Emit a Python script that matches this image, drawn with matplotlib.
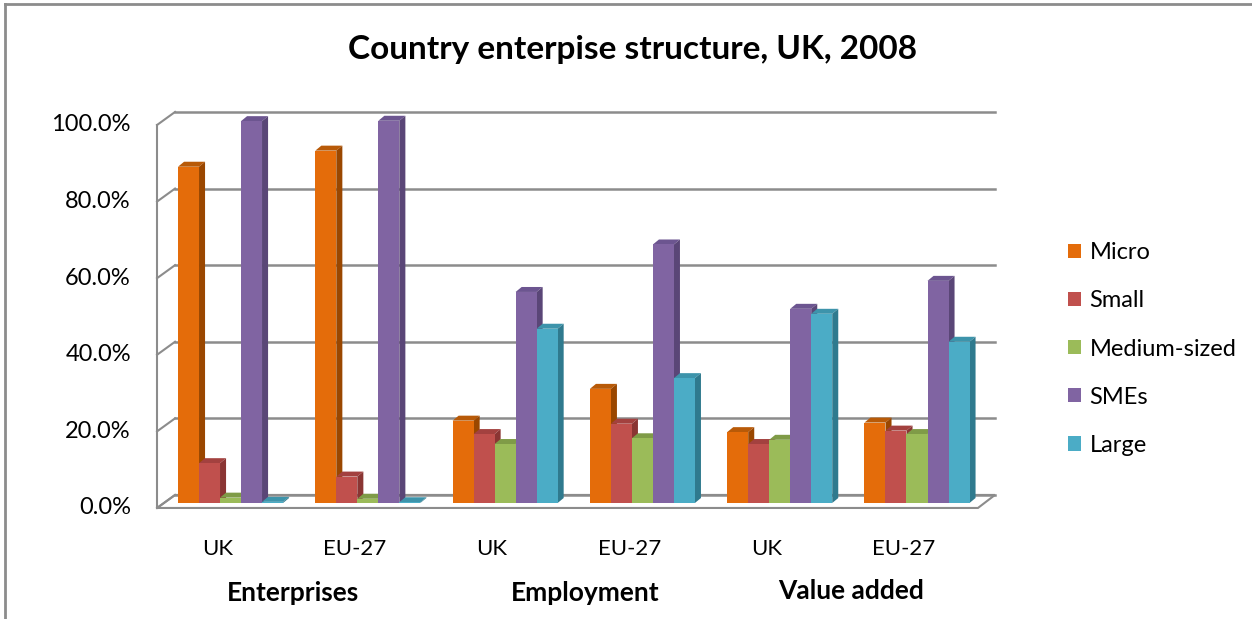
import numpy as np
import matplotlib.pyplot as plt
from matplotlib.patches import Polygon, Patch
from matplotlib.lines import Line2D

plt.rcParams['font.family'] = ['Lato', 'DejaVu Sans']

# data (percent)
series = ['Micro', 'Small', 'Medium-sized', 'SMEs', 'Large']
countries = ['UK', 'EU-27', 'UK', 'EU-27', 'UK', 'EU-27']
groups = ['Enterprises', 'Employment', 'Value added']
micro  = [87.8, 92.0, 21.5, 29.8, 18.5, 21.0]
small  = [10.4, 6.9, 18.0, 20.7, 15.4, 18.9]
medium = [1.4, 1.1, 15.4, 16.9, 16.5, 18.0]
smes   = [99.7, 99.8, 55.1, 67.5, 50.7, 58.0]
large  = [0.3, 0.2, 45.5, 32.6, 49.4, 42.1]
values = [micro, small, medium, smes, large]
yticks = [0, 20, 40, 60, 80, 100]

front = ['#E46C0A', '#C0504D', '#9BBB59', '#8064A2', '#4BACC6']
side  = ['#9A4700', '#8A3533', '#6E8A3C', '#5A4677', '#2F7A8E']
top   = ['#B85A08', '#A3413F', '#7F9B47', '#6C5590', '#3D94AB']

fig = plt.figure(figsize=(12.52, 6.19), dpi=100)
ax = fig.add_axes([0, 0, 1, 1])
ax.set_xlim(-1.679, 7.440)
ax.set_ylim(-30.29, 131.33)
ax.axis('off')

# geometry of the fake 3d box
w = 0.153            # bar width
bdx, bdy = 0.044, 1.3  # bar depth
fx0, fx1, fy = -0.535, 5.444, -1.3   # front floor edge
bx0, bx1, by = -0.404, 5.568, 2.1    # back floor edge
grid_c = '#8C8C8C'

# floor
ax.add_patch(Polygon([(fx0, fy), (fx1, fy), (bx1, by), (bx0, by)],
                     closed=True, facecolor='white', edgecolor=grid_c, lw=1.5, zorder=1))
# back wall gridlines + left wall
for v in yticks:
    ax.plot([bx0, bx1], [by + v, by + v], color=grid_c, lw=1.8, zorder=1)
    ax.plot([fx0, bx0], [fy + v, by + v], color=grid_c, lw=1.5, zorder=1)
    ax.text(fx0 - 0.19, fy + v, f'{v:.1f}%', ha='right', va='center', fontsize=17)
ax.plot([fx0, fx0], [fy, fy + 100], color=grid_c, lw=1.5, zorder=1)

# bars
x = np.arange(len(countries))
for i in range(len(countries)):
    for j in range(len(series)):
        h = values[j][i]
        x0 = x[i] + (j - 2.5) * w
        z = 3 + j * 0.1
        ax.add_patch(Polygon([(x0, h), (x0 + w, h), (x0 + w + bdx, h + bdy), (x0 + bdx, h + bdy)],
                             closed=True, facecolor=top[j], edgecolor='none', zorder=z))
        ax.add_patch(Polygon([(x0 + w, 0), (x0 + w + bdx, bdy), (x0 + w + bdx, h + bdy), (x0 + w, h)],
                             closed=True, facecolor=side[j], edgecolor='none', zorder=z))
        ax.bar(x0, h, width=w, align='edge', color=front[j], lw=0, zorder=z + 0.05)

# category labels
for i, c in enumerate(countries):
    ax.text(x[i] - 0.095, -12, c, ha='center', va='center', fontsize=16)
group_x = [0.455, 2.582, 4.519]
group_y = [-23.5, -23.5, -23.0]
for gx, gy, g in zip(group_x, group_y, groups):
    ax.text(gx, gy, g, ha='center', va='center', fontsize=19, fontweight='bold')

fig.text(0.505, 1 - 50 / 619, 'Country enterpise structure, UK, 2008',
         ha='center', va='center', fontsize=24, fontweight='bold')

handles = [Patch(facecolor=c, edgecolor='none', label=s) for c, s in zip(front, series)]
fig.legend(handles=handles, loc='center left', bbox_to_anchor=(1047 / 1252, 1 - 349 / 619),
           frameon=False, fontsize=17, handlelength=0.55, handleheight=0.55,
           handletextpad=0.35, labelspacing=1.15)

# outer border
fig.add_artist(Line2D([0.004, 1], [0.993, 0.993], color='#8C8C8C', lw=2, transform=fig.transFigure))
fig.add_artist(Line2D([0.004, 0.004], [0, 0.993], color='#8C8C8C', lw=2, transform=fig.transFigure))

fig.savefig('out.png', dpi=100)
